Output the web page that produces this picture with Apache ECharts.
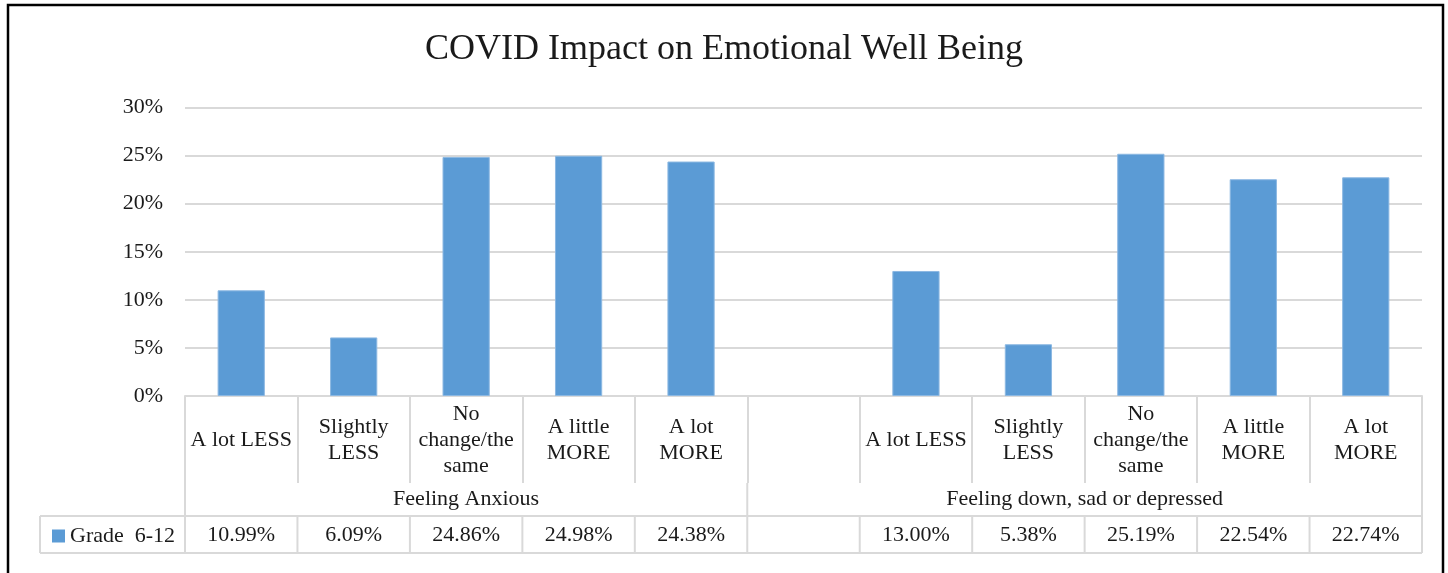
<!DOCTYPE html>
<html>
<head>
<meta charset="utf-8">
<title>COVID Impact on Emotional Well Being</title>
<script src="https://cdn.jsdelivr.net/npm/echarts@6/dist/echarts.min.js"></script>
<style>
  html, body { margin: 0; padding: 0; background: #fff; }
  #chart { width: 1448px; height: 573px; }
</style>
</head>
<body>
<div id="chart"></div>
<script>
// Response categories (the blank slot separates the two questions)
const categories = [
  'A lot LESS', 'Slightly\nLESS', 'No\nchange/the\nsame', 'A little\nMORE', 'A lot\nMORE',
  '',
  'A lot LESS', 'Slightly\nLESS', 'No\nchange/the\nsame', 'A little\nMORE', 'A lot\nMORE'
];
// Question groups: label plus first/last slot index
const groupLabels = ['Feeling Anxious', 'Feeling down, sad or depressed'];
const groupStart = [0, 5];
const groupEnd = [4, 10];
// Percent of students, grade 6-12
const seriesName = 'Grade  6-12';
const values = [10.99, 6.09, 24.86, 24.98, 24.38, null, 13.00, 5.38, 25.19, 22.54, 22.74];
const yTicks = [0, 5, 10, 15, 20, 25, 30];

const FONT = '"Liberation Serif", "DejaVu Serif", serif';
const GRID = '#d9d9d9';
const TEXT = '#1a1a1a';
const FS = 22;

const chart = echarts.init(document.getElementById('chart'), null, { renderer: 'canvas' });

chart.setOption({
  animation: false,
  backgroundColor: '#fff',
  textStyle: { fontFamily: FONT },
  title: {
    text: 'COVID Impact on Emotional Well Being',
    left: 'center',
    top: 27,
    textStyle: { fontFamily: FONT, fontSize: 36, fontWeight: 'normal', color: TEXT }
  },
  legend: {
    left: 47,
    top: 520,
    itemWidth: 13,
    itemHeight: 13,
    icon: 'rect',
    itemGap: 5,
    itemStyle: { borderWidth: 0 },
    textStyle: { fontFamily: FONT, fontSize: FS, color: TEXT },
    data: [seriesName]
  },
  grid: { left: 185, right: 26, top: 107.5, bottom: 177 },
  xAxis: {
    type: 'category',
    data: categories,
    axisLine: { show: true, lineStyle: { color: GRID, width: 2 } },
    axisTick: { show: true, length: 87, interval: 0, lineStyle: { color: GRID, width: 2 } },
    axisLabel: {
      interval: 0,
      margin: 44,
      verticalAlign: 'middle',
      lineHeight: 26,
      fontFamily: FONT,
      fontSize: FS,
      color: TEXT
    }
  },
  yAxis: {
    type: 'value',
    min: yTicks[0],
    max: yTicks[yTicks.length - 1],
    interval: 5,
    axisLine: { show: false },
    axisTick: { show: false },
    splitLine: { lineStyle: { color: GRID, width: 2 } },
    axisLabel: {
      formatter: v => v + '%',
      margin: 22,
      fontFamily: FONT,
      fontSize: FS,
      color: TEXT
    }
  },
  series: [{
    name: seriesName,
    type: 'bar',
    barWidth: '42%',
    itemStyle: { color: '#5b9bd5', borderColor: '#8cb8e2', borderWidth: 1 },
    data: values
  }]
});

// Data table under the plot, laid out from the axis scales
function drawTable() {
  const xAt = i => chart.convertToPixel({ xAxisIndex: 0 }, i);
  const slot = xAt(1) - xAt(0);
  const edge = i => xAt(i) - slot / 2;            // left edge of slot i
  const y0 = chart.convertToPixel({ yAxisIndex: 0 }, 0);
  const catBottom = y0 + 87;
  const rowTop = y0 + 120;
  const rowBottom = y0 + 157;
  const keyLeft = 40;
  const right = edge(categories.length);

  const line = (x1, y1, x2, y2) => ({
    type: 'line',
    shape: { x1, y1, x2, y2 },
    style: { stroke: GRID, lineWidth: 2 },
    silent: true
  });
  const text = (x, y, str) => ({
    type: 'text',
    x, y,
    style: { text: str, fill: TEXT, font: FS + 'px ' + FONT, align: 'center', verticalAlign: 'middle' },
    silent: true
  });

  const els = [];
  // group row separators
  groupStart.forEach(s => els.push(line(edge(s), catBottom, edge(s), rowTop)));
  els.push(line(right, catBottom, right, rowTop));
  // group labels
  groupLabels.forEach((g, k) => {
    const cx = (edge(groupStart[k]) + edge(groupEnd[k] + 1)) / 2;
    els.push(text(cx, (catBottom + rowTop) / 2, g));
  });
  // value row
  els.push(line(keyLeft, rowTop, right, rowTop));
  els.push(line(keyLeft, rowBottom, right, rowBottom));
  els.push(line(keyLeft, rowTop, keyLeft, rowBottom));
  for (let i = 0; i <= categories.length; i++) {
    els.push(line(edge(i), rowTop, edge(i), rowBottom));
  }
  values.forEach((v, i) => {
    if (v != null) els.push(text(xAt(i), (rowTop + rowBottom) / 2 + 1, v.toFixed(2) + '%'));
  });
  // outer frame
  els.push({
    type: 'rect',
    shape: { x: 8, y: 5, width: 1435, height: 620 },
    style: { fill: null, stroke: '#000', lineWidth: 2.5 },
    silent: true
  });

  chart.setOption({ graphic: { elements: els } });
}
drawTable();
</script>
</body>
</html>
